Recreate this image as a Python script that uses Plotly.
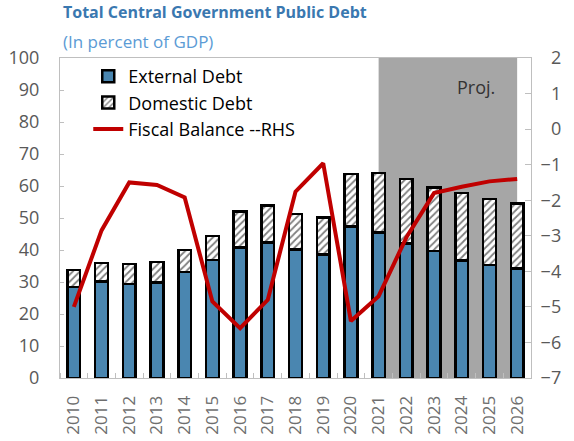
import plotly.graph_objects as go
from plotly.subplots import make_subplots

years = list(range(2010, 2027))
external_debt = [28.5, 30.1, 29.4, 29.8, 33.2, 36.9, 40.8, 42.3, 40.2, 38.6, 47.3, 45.4, 42.0, 39.7, 36.7, 35.3, 34.2]
total_debt = [33.7, 36.0, 35.6, 36.2, 40.0, 44.4, 52.0, 53.9, 51.2, 50.1, 63.7, 64.0, 62.2, 59.6, 57.8, 55.9, 54.6]
domestic_debt = [round(t - e, 1) for t, e in zip(total_debt, external_debt)]
fiscal_balance = [-5.0, -2.85, -1.5, -1.57, -1.92, -4.85, -5.6, -4.8, -1.76, -0.96, -5.4, -4.7, -3.05, -1.8, -1.62, -1.47, -1.4]
proj_start, proj_end = 2021, 2026

left_ticks = list(range(0, 101, 10))
right_ticks = list(range(-7, 3))
right_ticktext = [("\u2212" if v < 0 else "\u2007") + str(abs(v)) for v in right_ticks]

fig = make_subplots(specs=[[{"secondary_y": True}]])

fig.add_trace(go.Bar(
    x=years, y=external_debt, name="External Debt",
    marker=dict(color="#4a86b0", line=dict(color="black", width=2.5)),
    width=0.46,
), secondary_y=False)
fig.add_trace(go.Bar(
    x=years, y=domestic_debt, name="Domestic Debt",
    marker=dict(color="white", line=dict(color="black", width=2.5),
                pattern=dict(shape="/", fgcolor="black", bgcolor="white", size=5, solidity=0.35)),
    width=0.46,
), secondary_y=False)
fig.add_trace(go.Scatter(
    x=years, y=fiscal_balance, name="Fiscal Balance --RHS", mode="lines",
    line=dict(color="#c00000", width=4),
), secondary_y=True)

fig.add_shape(type="rect", xref="x", yref="paper", x0=proj_start, x1=proj_end, y0=0, y1=1,
              fillcolor="#a6a6a6", line=dict(width=0), layer="below")
fig.add_annotation(text="Proj.", xref="paper", yref="paper", x=0.883, y=0.909,
                   xanchor="center", yanchor="middle", showarrow=False,
                   font=dict(size=18, color="#333333"))
fig.add_annotation(text="<b>Total Central Government Public Debt</b>", xref="paper", yref="paper",
                   x=0.002, y=1.144, xanchor="left", yanchor="middle", showarrow=False,
                   font=dict(size=16, color="#3a78b0"))
fig.add_annotation(text="(In percent of GDP)", xref="paper", yref="paper",
                   x=0.002, y=1.05, xanchor="left", yanchor="middle", showarrow=False,
                   font=dict(size=17, color="#5b9bd5"))

fig.update_layout(
    width=574, height=441,
    margin=dict(l=60, r=43, t=58, b=63),
    barmode="stack",
    plot_bgcolor="white", paper_bgcolor="white",
    font=dict(family="Open Sans, Noto Sans, sans-serif", color="#404040"),
    showlegend=True,
    legend=dict(x=0.06, y=1.0, xanchor="left", yanchor="top", bgcolor="rgba(0,0,0,0)",
                font=dict(size=18, color="#000000"), tracegroupgap=0, traceorder="normal"),
)
fig.update_xaxes(domain=[0, 1], range=[2009.5, 2026.5], tickvals=years, ticktext=[str(y) for y in years],
                 showline=True, linecolor="#bfbfbf", linewidth=1, mirror=True, automargin=False,
                 ticks="", tickangle=-90, tickfont=dict(size=17, color="#6e6e6e"), showgrid=False,
                 zeroline=False, ticklabelstandoff=10,
                 minor=dict(ticks="inside", tick0=2009.5, dtick=1, ticklen=5, tickcolor="#bfbfbf", showgrid=False))
fig.update_yaxes(range=[0, 100], tickvals=left_ticks, showline=True, linecolor="#bfbfbf",
                 ticks="inside", ticklen=4, tickcolor="#bfbfbf", showgrid=False, zeroline=False,
                 automargin=False, ticklabelstandoff=16,
                 tickfont=dict(size=18, color="#595959"), secondary_y=False)
fig.update_yaxes(range=[-7, 2], tickvals=right_ticks, ticktext=right_ticktext, showline=True,
                 linecolor="#bfbfbf",
                 ticks="inside", ticklen=6, tickcolor="#bfbfbf", showgrid=False, zeroline=False,
                 automargin=False, ticklabelstandoff=5,
                 tickfont=dict(size=18, color="#595959"), secondary_y=True)

fig.write_html("out.html", config={"displayModeBar": False},
               post_script="document.body.style.margin='0';")
